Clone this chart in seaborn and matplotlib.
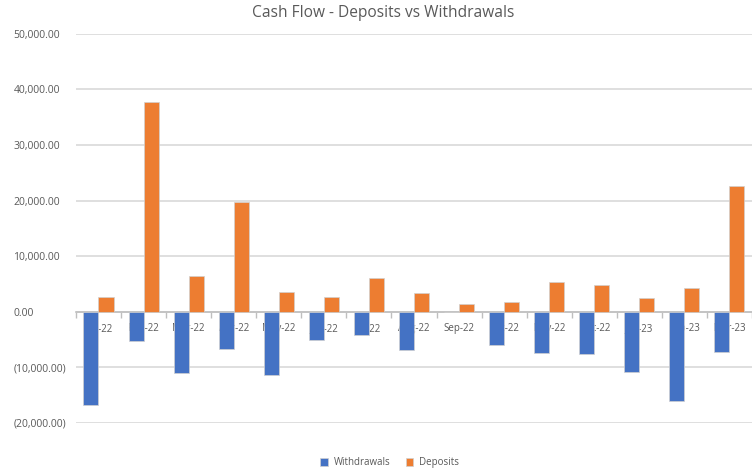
import pandas as pd
import matplotlib
matplotlib.use("Agg")
import matplotlib.pyplot as plt
from matplotlib.ticker import FuncFormatter, FixedLocator
import seaborn as sns

# Monthly cash flow
months = ["Jan-22", "Feb-22", "Mar-22", "Apr-22", "May-22", "Jun-22", "Jul-22", "Aug-22",
          "Sep-22", "Oct-22", "Nov-22", "Dec-22", "Jan-23", "Feb-23", "Mar-23"]
withdrawals = [-16800, -5200, -11100, -6650, -11350, -5100, -4250, -6900,
               0, -6050, -7430, -7600, -10850, -16070, -7300]
deposits = [2700, 37750, 6400, 19800, 3550, 2700, 6000, 3400,
            1330, 1700, 5300, 4750, 2400, 4200, 22700]

df = pd.DataFrame({
    "Month": months * 2,
    "Amount": withdrawals + deposits,
    "Type": ["Withdrawals"] * len(months) + ["Deposits"] * len(months),
})

sns.set_theme(style="white")
plt.rcParams["font.family"] = ["Open Sans", "DejaVu Sans"]

fig = plt.figure(figsize=(7.52, 4.71), dpi=100)
ax = fig.add_axes([0.101, 0.102, 0.899, 0.826])

sns.barplot(data=df, x="Month", y="Amount", hue="Type",
            hue_order=["Withdrawals", "Deposits"],
            palette=["#4472C4", "#ED7D31"], saturation=1, width=0.667, ax=ax,
            edgecolor="#d0d0d0", linewidth=0.5)

ax.set_ylim(-20000, 50000)
ax.set_xlim(-0.5, len(months) - 0.5)
ax.set_yticks(range(-20000, 50001, 10000))


def money(v, _):
    return f"{v:,.2f}" if v >= 0 else f"({-v:,.2f})"


ax.yaxis.set_major_formatter(FuncFormatter(money))
ax.set_axisbelow(True)
ax.grid(axis="y", color="#d9d9d9", linewidth=1.2)
ax.grid(axis="x", visible=False)

for s in ["top", "right", "left"]:
    ax.spines[s].set_visible(False)
ax.spines["bottom"].set_position(("data", 0))
ax.spines["bottom"].set_color("#bfbfbf")
ax.spines["bottom"].set_linewidth(1.2)
ax.spines["bottom"].set_zorder(0.6)

ax.xaxis.set_minor_locator(FixedLocator([i - 0.5 for i in range(len(months) + 1)]))
ax.tick_params(axis="x", which="major", length=0, pad=8, labelsize=7, labelcolor="#595959")
ax.tick_params(axis="x", which="minor", bottom=True, length=4, width=1, color="#bfbfbf",
               direction="out")
ax.tick_params(axis="y", length=0, labelsize=7.5, labelcolor="#595959", pad=45)
for lbl in ax.get_yticklabels():
    lbl.set_horizontalalignment("left")

ax.set_xlabel("")
ax.set_ylabel("")

handles, labels = ax.get_legend_handles_labels()
ax.get_legend().remove()
fig.legend(handles, labels, loc="center", bbox_to_anchor=(0.518, 0.017), ncol=2,
           frameon=False, fontsize=7, handlelength=0.8, handleheight=0.8,
           handletextpad=0.6, columnspacing=1.6, labelcolor="#595959")

fig.text(0.51, 0.972, "Cash Flow - Deposits vs Withdrawals", ha="center", va="center",
         fontsize=11.2, color="#595959")

fig.savefig("out.png", dpi=100)
